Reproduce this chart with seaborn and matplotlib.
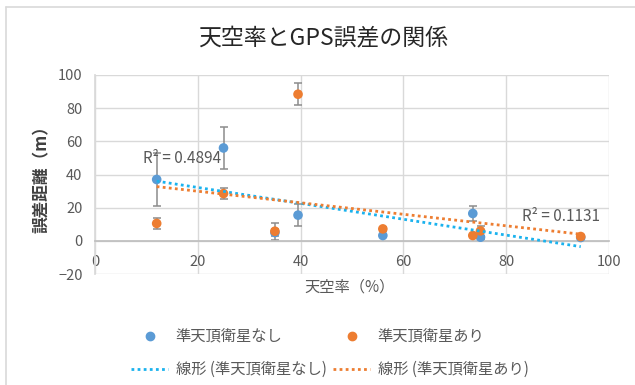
import numpy as np
import pandas as pd
import matplotlib
matplotlib.use("Agg")
import matplotlib.pyplot as plt
from matplotlib.lines import Line2D
import seaborn as sns

# Sky-view factor (%) of each measuring site
sky_ratio = [12, 25, 35, 39.5, 56, 73.5, 75, 94.5]

# Positioning error (m) without QZSS, and its spread
err_without_qzss = [37, 56, 5, 15.5, 3.2, 16.5, 2.2, 2.0]
spread_without_qzss = [16, 12.5, 2, 6.5, 1, 4.8, 1, 1]

# Positioning error (m) with QZSS, and its spread
err_with_qzss = [10.5, 28.5, 5.8, 88.4, 7.2, 3.2, 6.0, 2.6]
spread_with_qzss = [3.2, 3.3, 5.0, 6.5, 1, 1, 3, 1]

series_names = ["準天頂衛星なし", "準天頂衛星あり"]
trend_names = ["線形 (準天頂衛星なし)", "線形 (準天頂衛星あり)"]
r2_labels = ["R² = 0.4894", "R² = 0.1131"]

x_ticks = [0, 20, 40, 60, 80, 100]
y_ticks = [-20, 0, 20, 40, 60, 80, 100]

title = "天空率とGPS誤差の関係"
x_label = "天空率（%）"
y_label = "誤差距離（m）"

sns.set_theme(style="white")
plt.rcParams["font.family"] = ["Noto Sans CJK JP", "DejaVu Sans"]

point_colors = ["#5B9BD5", "#ED7D31"]
trend_colors = ["#1AB2EE", "#ED7D31"]
text_gray = "#595959"

df = pd.DataFrame({
    "x": sky_ratio * 2,
    "y": err_without_qzss + err_with_qzss,
    "e": spread_without_qzss + spread_with_qzss,
    "series": [series_names[0]] * len(sky_ratio) + [series_names[1]] * len(sky_ratio),
})

fig = plt.figure(figsize=(6.35, 3.85), dpi=100)
ax = fig.add_axes([95 / 635, 1 - 274 / 385, (609 - 95) / 635, (274 - 75) / 385])

# chart-area frame
fig.add_artist(Line2D([6 / 635, 6 / 635], [0, 1 - 7 / 385], transform=fig.transFigure,
                      color="#d9d9d9", lw=1.2))
fig.add_artist(Line2D([6 / 635, 1], [1 - 7 / 385, 1 - 7 / 385], transform=fig.transFigure,
                      color="#d9d9d9", lw=1.2))

# error bars
for name in series_names:
    sub = df[df["series"] == name]
    ax.errorbar(sub["x"], sub["y"], yerr=sub["e"], fmt="none", ecolor="#8c8c8c",
                elinewidth=1.1, capsize=3, capthick=1.1, zorder=2)

sns.scatterplot(data=df, x="x", y="y", hue="series", palette=point_colors,
                s=48, edgecolor="none", legend=False, ax=ax, zorder=3)

# linear trend lines over the data range
xs = np.array(sky_ratio)
xline = np.linspace(xs.min(), xs.max(), 50)
for ys, col in zip([err_without_qzss, err_with_qzss], trend_colors):
    k, b = np.polyfit(xs, np.array(ys), 1)
    ax.plot(xline, k * xline + b, linestyle=(0, (1, 1.2)), color=col, lw=2.0, zorder=4)

ax.text(9.3, 49.4, r2_labels[0], fontsize=11, color=text_gray, va="center", ha="left")
ax.text(83, 14.5, r2_labels[1], fontsize=11, color=text_gray, va="center", ha="left")

ax.set_xlim(0, 100)
ax.set_ylim(-20, 100)
ax.set_xticks(x_ticks)
ax.set_yticks(y_ticks)
ax.grid(True, color="#d9d9d9", lw=1)
for s in ["top", "right"]:
    ax.spines[s].set_visible(False)
ax.spines["left"].set_color("#d9d9d9")
ax.spines["bottom"].set_position(("data", 0))
ax.spines["bottom"].set_color("#bfbfbf")
ax.tick_params(axis="both", length=0, labelsize=10.5, labelcolor=text_gray)
ax.tick_params(axis="x", pad=10)
ax.tick_params(axis="y", pad=9)
ax.set_xlabel("")
ax.set_ylabel("")

fig.text(350 / 635, 1 - 287 / 385, x_label, ha="center", va="center", fontsize=11, color=text_gray)
fig.text(42 / 635, 1 - 175 / 385, y_label, ha="center", va="center", rotation=90,
         fontsize=12, color="#404040", fontweight="bold")
fig.text(323 / 635, 1 - 38 / 385, title, ha="center", va="center", fontsize=16.5, color="#262626")

handles = [
    Line2D([], [], marker="o", linestyle="none", color=point_colors[0], markersize=6),
    Line2D([], [], linestyle=(0, (1, 1.2)), color=trend_colors[0], lw=2),
    Line2D([], [], marker="o", linestyle="none", color=point_colors[1], markersize=6),
    Line2D([], [], linestyle=(0, (1, 1.2)), color=trend_colors[1], lw=2),
]
labels = [series_names[0], trend_names[0], series_names[1], trend_names[1]]
leg = fig.legend(handles, labels, ncol=2, loc="center", bbox_to_anchor=(330 / 635, 1 - 353 / 385),
                 frameon=False, fontsize=11, handlelength=2.4, handletextpad=0.5,
                 columnspacing=0.45, labelspacing=1.05, labelcolor=text_gray)

fig.savefig("out.png", dpi=100)
